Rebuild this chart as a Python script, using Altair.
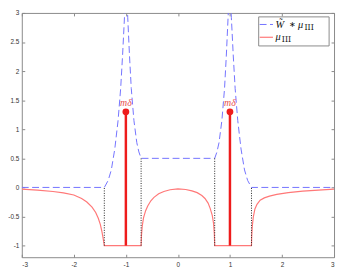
import altair as alt
import pandas as pd

# ---------------- data ----------------
mu_x = [-3.0, -2.7, -2.4, -2.2, -2.0, -1.85, -1.75, -1.65, -1.58, -1.53, -1.49, -1.46, -1.44, -1.425, -1.414,
        -0.707, -0.70, -0.685, -0.66, -0.62, -0.58, -0.52, -0.46, -0.37, -0.27, -0.15, 0.0,
        0.15, 0.27, 0.37, 0.46, 0.52, 0.58, 0.62, 0.66, 0.685, 0.70, 0.707,
        1.414, 1.418, 1.43, 1.45, 1.48, 1.52, 1.58, 1.66, 1.76, 1.9, 2.12, 2.4, 2.7, 3.0]
mu_y = [-0.03, -0.045, -0.07, -0.095, -0.13, -0.19, -0.25, -0.34, -0.43, -0.53, -0.64, -0.76, -0.86, -0.94, -1.0,
        -1.0, -0.82, -0.66, -0.52, -0.40, -0.32, -0.23, -0.17, -0.11, -0.07, -0.04, -0.025,
        -0.035, -0.06, -0.09, -0.14, -0.19, -0.27, -0.36, -0.48, -0.62, -0.80, -1.0,
        -1.0, -0.85, -0.66, -0.50, -0.37, -0.29, -0.22, -0.18, -0.15, -0.12, -0.09, -0.065, -0.047, -0.03]

w_x = [-3.0, -1.414, -1.34, -1.28, -1.213, -1.15, -1.10, -1.064, -1.027, -0.994, -0.964, -0.93, -0.896, -0.845, -0.79, -0.75, -0.707,
       0.707, 0.75, 0.79, 0.845, 0.896, 0.93, 0.964, 0.994, 1.027, 1.064, 1.10, 1.15, 1.213, 1.28, 1.34, 1.414, 3.0]
w_y = [0.0, 0.0, 0.12, 0.30, 0.66, 1.15, 1.70, 2.26, 2.92, 3.51, 2.92, 2.26, 1.70, 1.15, 0.77, 0.61, 0.5,
       0.5, 0.61, 0.77, 1.15, 1.70, 2.26, 2.92, 3.51, 2.92, 2.26, 1.70, 1.15, 0.66, 0.30, 0.12, 0.0, 0.0]

stem_x = [-1.0, 1.0]
stem_base = [-1.0, -1.0]
stem_top = [1.3, 1.3]
stem_label_y = [1.45, 1.45]
stem_label = ["mδ", "mδ"]

dot_x = [-1.414, -0.707, 0.707, 1.414]
dot_top = [0.0, 0.5, 0.5, 0.0]
dot_bottom = [-1.0, -1.0, -1.0, -1.0]

x_ticks = [-3, -2, -1, 0, 1, 2, 3]
y_ticks = [-1, -0.5, 0, 0.5, 1, 1.5, 2, 2.5, 3]

# ---------------- tables ----------------
mu_df = pd.DataFrame({"x": mu_x, "y": mu_y, "i": range(len(mu_x))})
w_df = pd.DataFrame({"x": w_x, "y": w_y, "i": range(len(w_x))})
stem_df = pd.DataFrame({"x": stem_x, "y0": stem_base, "y1": stem_top, "ly": stem_label_y, "t": stem_label})
dot_df = pd.DataFrame({"x": dot_x, "y0": dot_bottom, "y1": dot_top})

W, H = 317, 248
FRAME = "#8a8a8a"
BLUE = "#7373ff"
RED = "#ff7878"
xs = alt.Scale(domain=[-3, 3], nice=False, zero=False)
ys = alt.Scale(domain=[-1.2, 3], nice=False, zero=False)

common = dict(grid=False, domain=False, tickColor=FRAME, tickSize=3, tickWidth=1, offset=-3,
              labelFont="Liberation Sans", labelFontSize=6.5, labelColor="#333333",
              labelExpr="datum.value + ''", title=None)

ax_bottom = alt.Axis(orient="bottom", values=x_ticks, labelPadding=4, **common)
ax_left = alt.Axis(orient="left", values=y_ticks, labelPadding=3, **common)
ax_top = alt.Axis(orient="top", values=x_ticks, labels=False, **common)
ax_right = alt.Axis(orient="right", values=y_ticks, labels=False, **common)

red_curve = alt.Chart(mu_df).mark_line(color=RED, strokeWidth=1.2, clip=True).encode(
    x=alt.X("x:Q", scale=xs, axis=ax_bottom),
    y=alt.Y("y:Q", scale=ys, axis=ax_left),
    order="i:Q",
)

blue_curve = alt.Chart(w_df).mark_line(color=BLUE, strokeWidth=1, strokeDash=[7, 3.5], clip=True).encode(
    x=alt.X("x:Q", scale=xs, axis=ax_top),
    y=alt.Y("y:Q", scale=ys, axis=ax_right),
    order="i:Q",
)

dots = alt.Chart(dot_df).mark_rule(color="#222222", strokeWidth=1, strokeDash=[1, 1.5]).encode(
    x=alt.X("x:Q", scale=xs, axis=None),
    y=alt.Y("y0:Q", scale=ys, axis=None),
    y2="y1:Q",
)

stems = alt.Chart(stem_df).mark_rule(color="#ee1c1c", strokeWidth=2.5).encode(
    x=alt.X("x:Q", scale=xs, axis=None),
    y=alt.Y("y0:Q", scale=ys, axis=None),
    y2="y1:Q",
)

heads = alt.Chart(stem_df).mark_point(color="#ee1c1c", filled=True, opacity=1, size=48, shape="circle").encode(
    x=alt.X("x:Q", scale=xs, axis=None),
    y=alt.Y("y1:Q", scale=ys, axis=None),
)

labels = alt.Chart(stem_df).mark_text(color="#e85050", font="Liberation Serif", fontStyle="italic",
                                      fontSize=10, baseline="middle", align="center").encode(
    x=alt.X("x:Q", scale=xs, axis=None),
    y=alt.Y("ly:Q", scale=ys, axis=None),
    text="t:N",
)

# ---------------- legend box (pixel layout) ----------------
one = pd.DataFrame({"a": [0]})
LX, LY, LW, LH = 240.5, 4, 71.5, 29.5
leg_box = alt.Chart(one).mark_rect(fill="white", stroke=FRAME, strokeWidth=1).encode(
    x=alt.value(LX), x2=alt.value(LX + LW), y=alt.value(LY), y2=alt.value(LY + LH))
leg_blue = alt.Chart(one).mark_rule(color=BLUE, strokeWidth=1, strokeDash=[7, 3.5]).encode(
    x=alt.value(LX + 1), x2=alt.value(LX + 14.5), y=alt.value(LY + 7.7))
leg_red = alt.Chart(one).mark_rule(color=RED, strokeWidth=1.2).encode(
    x=alt.value(LX + 1), x2=alt.value(LX + 14.5), y=alt.value(LY + 20.7))

def txt(s, x, y, size, italic=True, font="Liberation Serif"):
    kw = dict(font=font, fontSize=size, color="#111111", baseline="middle", align="left")
    if italic:
        kw["fontStyle"] = "italic"
    return alt.Chart(one).mark_text(text=s, **kw).encode(x=alt.value(x), y=alt.value(y))

leg_texts = [
    txt("W̃", LX + 17, LY + 8, 10.5),
    txt("∗", LX + 31, LY + 8.5, 8, italic=False),
    txt("μ", LX + 40, LY + 8.5, 10.5),
    txt("III", LX + 46.5, LY + 11, 8, italic=False, font="DejaVu Serif"),
    txt("μ", LX + 17, LY + 20.5, 10.5),
    txt("III", LX + 23.5, LY + 23, 8, italic=False, font="DejaVu Serif"),
]

chart = alt.layer(
    red_curve, blue_curve, dots, stems, heads, labels, leg_box, leg_blue, leg_red, *leg_texts
).resolve_axis(x="independent", y="independent").properties(
    width=W, height=H,
    autosize=alt.AutoSizeParams(type="none"),
    padding={"left": 14, "top": 3, "right": 2, "bottom": 14},
).configure_view(stroke=FRAME, strokeWidth=1)

chart.save("out.html", embed_options={"renderer": "svg", "actions": False})
